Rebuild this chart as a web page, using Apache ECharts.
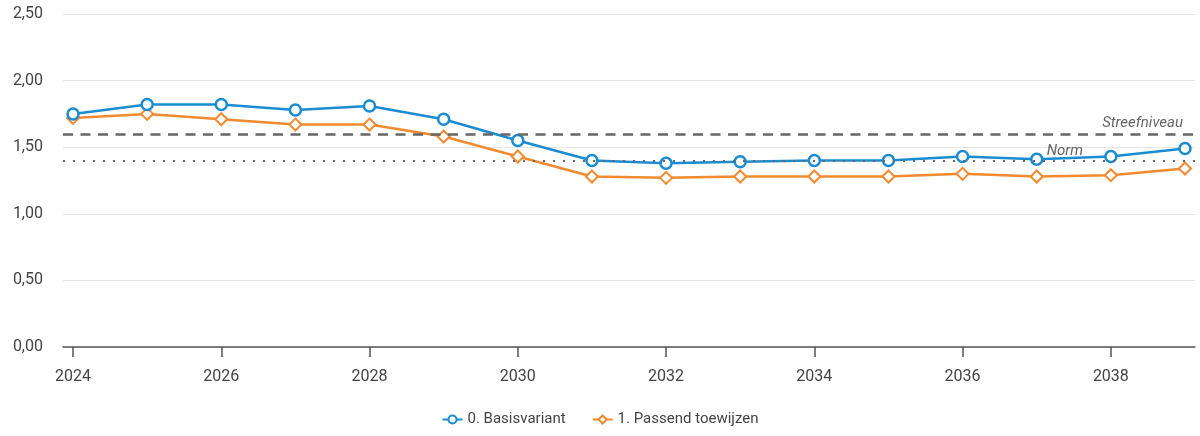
<!DOCTYPE html>
<html>
<head>
<meta charset="utf-8">
<script src="https://cdn.jsdelivr.net/npm/echarts@6/dist/echarts.min.js"></script>
<style>
  html, body { margin: 0; padding: 0; background: #fff; }
  #chart { width: 1200px; height: 436px; }
</style>
</head>
<body>
<div id="chart"></div>
<script>
const years = [2024, 2025, 2026, 2027, 2028, 2029, 2030, 2031,
  2032, 2033, 2034, 2035, 2036, 2037, 2038, 2039]
const yearTicks = [2024, 2026, 2028, 2030, 2032, 2034, 2036, 2038]
const basisvariant = [1.75, 1.82, 1.82, 1.78, 1.81, 1.71, 1.55, 1.40,
  1.38, 1.39, 1.40, 1.40, 1.43, 1.41, 1.43, 1.49]
const passendToewijzen = [1.72, 1.75, 1.71, 1.67, 1.67, 1.58, 1.43, 1.28,
  1.27, 1.28, 1.28, 1.28, 1.30, 1.28, 1.29, 1.34]
const streefniveau = 1.6
const norm = 1.4

const font = 'Roboto'
const blue = '#1a8cd1'
const orange = '#f48a2f'
const grey = '#666'
const chart = echarts.init(document.getElementById('chart'))

const fmt = (v) => v.toFixed(2).replace('.', ',')
const pairs = (vals) => vals.map((v, i) => [years[i], v])

// ~10px of padding either side of first/last year
const pad = 0.135

chart.setOption({
  animation: false,
  grid: { left: 63, right: 5, top: 14, bottom: 89 },
  legend: {
    bottom: 4,
    itemGap: 26,
    itemWidth: 20,
    itemHeight: 10,
    textStyle: { fontFamily: font, fontSize: 15, color: '#444' },
    data: ['0. Basisvariant', '1. Passend toewijzen'],
  },
  xAxis: {
    type: 'value',
    min: years[0] - pad,
    max: years[years.length - 1] + pad,
    splitLine: { show: false },
    axisLine: { lineStyle: { color: '#555', width: 1.5 } },
    axisTick: {
      customValues: yearTicks,
      length: 10,
      lineStyle: { color: '#555', width: 1.5 },
    },
    axisLabel: {
      customValues: yearTicks,
      formatter: (v) => String(v),
      margin: 22,
      fontFamily: font,
      fontSize: 16,
      color: '#444',
    },
  },
  yAxis: {
    type: 'value',
    min: 0,
    max: 2.5,
    interval: 0.5,
    axisLine: { show: false },
    axisTick: { show: false },
    splitLine: { lineStyle: { color: '#e6e6e6', width: 1 } },
    axisLabel: {
      margin: 20,
      fontFamily: font,
      fontSize: 16,
      color: '#444',
      formatter: fmt,
    },
  },
  series: [
    {
      name: '0. Basisvariant',
      type: 'line',
      data: pairs(basisvariant),
      symbol: 'circle',
      symbolSize: 11,
      showAllSymbol: true,
      lineStyle: { width: 2.5, color: blue },
      itemStyle: { color: '#fff', borderColor: blue, borderWidth: 2.5 },
      z: 3,
      markLine: {
        silent: true,
        symbol: 'none',
        data: [
          {
            yAxis: streefniveau,
            lineStyle: { type: [10, 7.5], color: grey, width: 2.5 },
            label: {
              show: true,
              position: 'insideEndTop',
              formatter: 'Streefniveau',
              fontFamily: font,
              fontStyle: 'italic',
              fontSize: 15,
              color: grey,
              distance: [12, 3],
            },
          },
          {
            yAxis: norm,
            lineStyle: { type: [2, 8], color: grey, width: 2 },
            label: {
              show: true,
              position: 'insideEndTop',
              formatter: 'Norm',
              fontFamily: font,
              fontStyle: 'italic',
              fontSize: 15,
              color: grey,
              distance: [112, 2],
            },
          },
        ],
      },
    },
    {
      name: '1. Passend toewijzen',
      type: 'line',
      data: pairs(passendToewijzen),
      symbol: 'diamond',
      symbolSize: 12,
      showAllSymbol: true,
      lineStyle: { width: 2.5, color: orange },
      itemStyle: { color: '#fff', borderColor: orange, borderWidth: 2 },
      z: 2,
    },
  ],
})
</script>
</body>
</html>
